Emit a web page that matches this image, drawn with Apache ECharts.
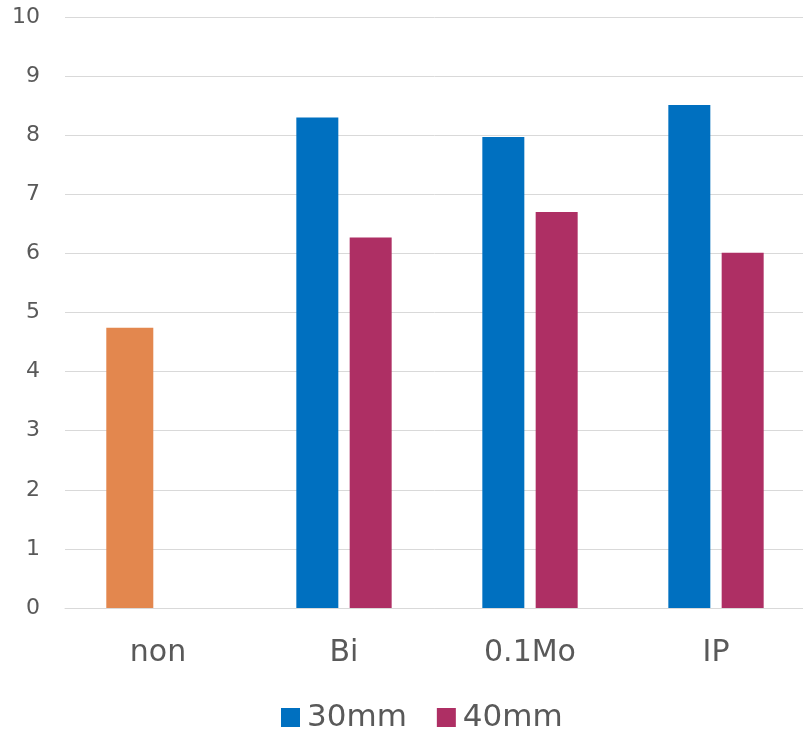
<!DOCTYPE html>
<html>
<head>
<meta charset="utf-8">
<script src="https://cdn.jsdelivr.net/npm/echarts@6/dist/echarts.min.js"></script>
<style>
  html, body { margin: 0; padding: 0; background: #ffffff; }
  #chart { width: 803px; height: 734px; }
</style>
</head>
<body>
<div id="chart"></div>
<script>
// Categories and measured values
const categories = ['non', 'Bi', '0.1Mo', 'IP'];
const values30mm = [null, 8.30, 7.97, 8.51];
const values40mm = [null, 6.27, 6.70, 6.01];
const valuesNon = [4.74, null, null, null];
const yTicks = [0, 1, 2, 3, 4, 5, 6, 7, 8, 9, 10];

const FONT = 'DejaVu Sans';
const TEXT = '#595959';

const chart = echarts.init(document.getElementById('chart'), null, { renderer: 'canvas' });

chart.setOption({
  animation: false,
  backgroundColor: '#ffffff',
  // plot area runs slightly past the right edge of the canvas
  grid: { left: 65, width: 744, top: 17, bottom: 126, containLabel: false, outerBoundsMode: 'none' },
  legend: {
    data: ['30mm', '40mm'],
    left: 276,
    top: 697,
    itemWidth: 19,
    itemHeight: 19,
    itemGap: 30,
    icon: 'rect',
    textStyle: { fontFamily: FONT, fontSize: 31, color: TEXT, padding: [0, 0, 0, 2] }
  },
  xAxis: [
    {
      type: 'category',
      data: categories,
      axisLine: { show: true, lineStyle: { color: '#d9d9d9', width: 1 } },
      axisTick: { show: false },
      axisLabel: { fontFamily: FONT, fontSize: 30, color: TEXT, margin: 30 }
    },
    {
      type: 'category',
      data: categories,
      show: false
    }
  ],
  yAxis: {
    type: 'value',
    min: yTicks[0],
    max: yTicks[yTicks.length - 1],
    interval: 1,
    axisLine: { show: false },
    axisTick: { show: false },
    splitLine: { lineStyle: { color: '#d9d9d9', width: 1 } },
    axisLabel: { fontFamily: FONT, fontSize: 22, color: TEXT, margin: 25 }
  },
  series: [
    {
      name: '30mm',
      type: 'bar',
      xAxisIndex: 0,
      data: values30mm,
      barWidth: 42,
      barGap: '27%',
      itemStyle: { color: '#0070c0' }
    },
    {
      name: '40mm',
      type: 'bar',
      xAxisIndex: 0,
      data: values40mm,
      barWidth: 42,
      barGap: '27%',
      itemStyle: { color: '#ae2f64' }
    },
    {
      name: 'non',
      type: 'bar',
      xAxisIndex: 1,
      data: valuesNon,
      barWidth: 47,
      barGap: '20%',
      itemStyle: { color: '#e3874e' }
    },
    {
      // empty slot that keeps the single reference bar in the first position
      name: 'slot',
      type: 'bar',
      xAxisIndex: 1,
      data: [null, null, null, null],
      barWidth: 47,
      barGap: '20%',
      silent: true
    }
  ]
});
</script>
</body>
</html>
